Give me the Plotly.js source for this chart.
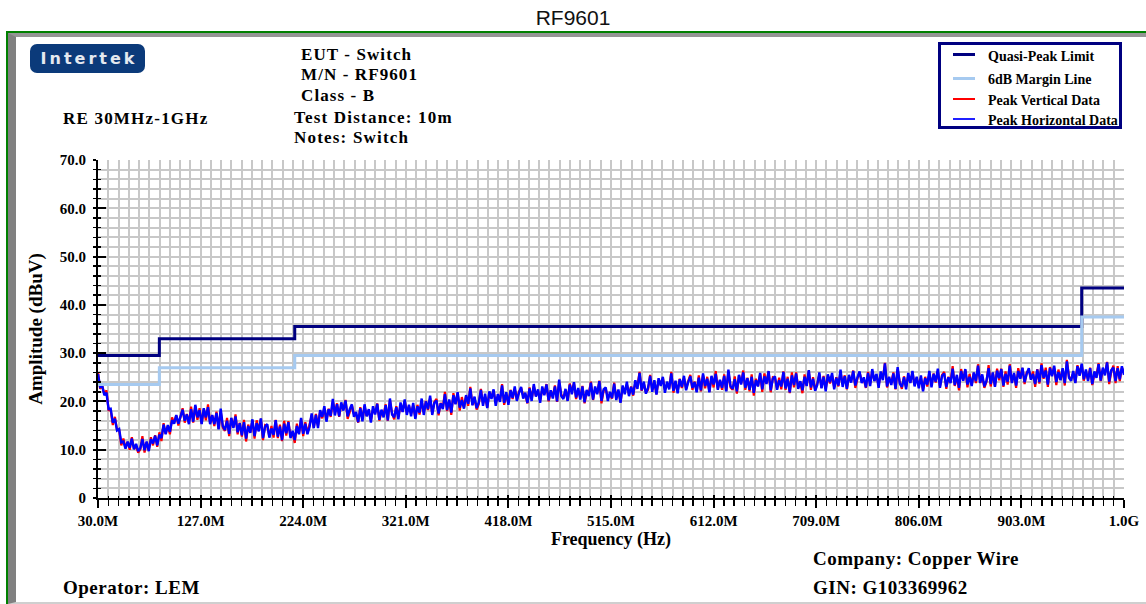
<!DOCTYPE html>
<html><head><meta charset="utf-8">
<script src="https://cdn.plot.ly/plotly-3.0.1.min.js"></script>
<style>
html,body{margin:0;padding:0;background:#fff;width:1146px;height:604px;overflow:hidden;}
#frame{position:absolute;left:6px;top:31px;width:1140px;height:573px;border-top:2px solid #008000;border-left:2px solid #008000;box-sizing:border-box;}
#bevel{position:absolute;left:8px;top:33px;width:1138px;height:571px;border-left:8px solid #808080;border-top:4px solid #959595;border-bottom:2px solid #cfcfcf;box-sizing:border-box;}
#logo{position:absolute;left:30px;top:44px;width:115px;height:29px;background:#0b3a7a;border-radius:7px;color:#e4e9f0;font:bold 16px "DejaVu Sans",sans-serif;letter-spacing:3px;padding-left:3px;box-sizing:border-box;text-align:center;line-height:29px;}
#legbox{position:absolute;left:938px;top:42px;width:184px;height:87px;border:3px solid #000080;box-sizing:border-box;}
.ls{position:absolute;left:953px;width:22px;}
#chart{position:absolute;left:0;top:0;width:1146px;height:604px;}
</style></head>
<body>
<div id="frame"></div>
<div id="bevel"></div>
<div id="logo">Intertek</div>
<div id="legbox"></div>
<div class="ls" style="top:53px;height:3px;background:#000080"></div>
<div class="ls" style="top:77px;height:3px;background:#a6caf0"></div>
<div class="ls" style="top:98px;height:2px;background:#ff0000"></div>
<div class="ls" style="top:118px;height:2px;background:#2020ff"></div>
<div id="chart"></div>
<script>
// ---- data ----
var limitFreq = [30, 88, 216, 960, 1000];
var qpLimit = [29.5, 33.0, 35.5, 43.5, 43.5];
var marginLine = [23.5, 27.0, 29.5, 37.5, 37.5];

var freq = [
30,32,34,36,38,40,42,44,46,48,50,52,54,56,58,60,62,64,66,68,
70,72,74,76,78,80,82,84,86,88,90,92,94,96,98,100,102,104,106,108,
110,112,114,116,118,120,122,124,126,128,130,132,134,136,138,140,142,144,146,148,
150,152,154,156,158,160,162,164,166,168,170,172,174,176,178,180,182,184,186,188,
190,192,194,196,198,200,202,204,206,208,210,212,214,216,218,220,222,224,226,228,
230,232,234,236,238,240,242,244,246,248,250,252,254,256,258,260,262,264,266,268,
270,272,274,276,278,280,282,284,286,288,290,292,294,296,298,300,302,304,306,308,
310,312,314,316,318,320,322,324,326,328,330,332,334,336,338,340,342,344,346,348,
350,352,354,356,358,360,362,364,366,368,370,372,374,376,378,380,382,384,386,388,
390,392,394,396,398,400,402,404,406,408,410,412,414,416,418,420,422,424,426,428,
430,432,434,436,438,440,442,444,446,448,450,452,454,456,458,460,462,464,466,468,
470,472,474,476,478,480,482,484,486,488,490,492,494,496,498,500,502,504,506,508,
510,512,514,516,518,520,522,524,526,528,530,532,534,536,538,540,542,544,546,548,
550,552,554,556,558,560,562,564,566,568,570,572,574,576,578,580,582,584,586,588,
590,592,594,596,598,600,602,604,606,608,610,612,614,616,618,620,622,624,626,628,
630,632,634,636,638,640,642,644,646,648,650,652,654,656,658,660,662,664,666,668,
670,672,674,676,678,680,682,684,686,688,690,692,694,696,698,700,702,704,706,708,
710,712,714,716,718,720,722,724,726,728,730,732,734,736,738,740,742,744,746,748,
750,752,754,756,758,760,762,764,766,768,770,772,774,776,778,780,782,784,786,788,
790,792,794,796,798,800,802,804,806,808,810,812,814,816,818,820,822,824,826,828,
830,832,834,836,838,840,842,844,846,848,850,852,854,856,858,860,862,864,866,868,
870,872,874,876,878,880,882,884,886,888,890,892,894,896,898,900,902,904,906,908,
910,912,914,916,918,920,922,924,926,928,930,932,934,936,938,940,942,944,946,948,
950,952,954,956,958,960,962,964,966,968,970,972,974,976,978,980,982,984,986,988,
990,992,994,996,998,1000];

var peakHorizontal = [
25.7,23.0,23.2,21.3,21.8,18.4,18.5,15.6,16.4,14.0,14.3,11.5,11.7,10.2,11.7,10.4,12.3,10.1,11.2,9.7,
10.3,12.2,9.9,11.7,9.7,12.2,11.3,12.9,10.9,13.1,12.4,15.2,13.2,15.1,13.7,16.1,15.4,17.2,15.4,16.8,
18.3,16.0,17.3,15.3,18.4,15.8,19.3,16.7,18.2,15.3,18.6,16.7,18.8,15.3,17.2,15.3,17.6,14.2,18.5,14.9,
14.1,16.0,13.3,16.6,14.5,16.9,13.6,15.5,13.0,15.7,12.3,14.9,13.5,16.3,12.8,15.5,13.8,16.5,12.4,14.8,
15.3,12.5,14.4,13.1,16.1,12.7,14.8,12.0,15.4,13.4,15.7,12.4,13.9,12.0,14.9,13.2,16.6,13.3,15.4,13.2,
14.7,17.5,14.5,17.2,14.5,18.2,16.8,19.0,15.8,18.4,17.0,20.5,17.1,19.4,16.9,19.8,18.1,20.2,16.9,18.4,
19.4,16.8,17.8,15.7,18.6,15.9,19.4,16.9,18.4,15.6,19.0,17.3,19.5,16.2,18.3,16.7,19.2,16.1,20.6,17.3,
16.7,18.8,16.3,19.8,17.8,20.4,17.2,19.3,16.9,19.7,16.4,19.0,17.7,20.6,17.2,20.0,18.4,21.2,17.2,19.7,
20.2,17.5,19.6,18.4,21.5,18.2,20.4,17.7,21.3,19.4,21.9,18.7,20.3,18.5,21.3,19.5,22.7,19.2,21.0,18.6,
19.8,22.4,19.1,21.6,18.6,22.1,20.5,22.5,19.1,21.5,19.9,23.3,19.7,21.9,19.3,22.3,20.7,23.1,20.1,21.8,
23.0,20.6,21.8,19.7,22.7,20.1,23.6,21.0,22.5,19.7,23.1,21.3,23.5,20.2,22.3,20.6,23.1,20.0,24.5,21.1,
20.5,22.6,20.1,23.5,21.5,24.0,20.8,22.8,20.4,23.1,19.8,22.4,21.1,23.9,20.4,23.1,21.5,24.2,20.1,22.5,
22.9,20.1,22.0,20.7,23.7,20.3,22.5,19.7,23.3,21.5,24.1,21.1,23.0,21.4,24.4,22.6,25.9,22.3,24.1,21.6,
22.8,25.3,22.0,24.4,21.4,24.8,23.2,25.1,21.8,24.1,22.5,25.8,22.2,24.3,21.7,24.6,23.0,25.3,22.3,24.0,
25.2,22.8,24.0,21.9,24.9,22.3,25.8,23.2,24.7,21.9,25.3,23.5,25.7,22.4,24.5,22.8,25.3,22.1,26.6,23.2,
22.6,24.6,22.1,25.5,23.5,26.0,22.8,24.8,22.4,25.1,21.8,24.4,23.1,25.9,22.5,25.2,23.6,26.3,22.3,24.7,
25.2,22.4,24.4,23.1,26.1,22.7,24.7,21.9,25.4,23.4,25.8,22.6,24.2,22.3,25.1,23.2,26.5,22.9,24.7,22.2,
23.4,26.0,22.7,25.1,22.1,25.6,24.0,25.9,22.5,24.9,23.3,26.6,23.0,25.2,22.6,25.5,23.9,26.3,23.3,25.0,
26.2,23.8,25.0,22.9,25.9,23.2,26.7,24.2,25.7,22.8,26.2,24.4,27.9,23.1,25.1,23.4,25.8,22.6,27.1,23.7,
23.0,25.0,22.5,25.9,23.8,26.3,23.1,25.1,22.7,25.4,22.1,24.8,23.5,26.3,22.9,25.7,24.1,26.8,22.8,25.3,
25.8,23.0,25.0,23.8,26.8,23.4,25.5,22.8,26.3,24.3,26.7,23.5,25.1,23.2,26.0,24.2,27.4,23.8,25.6,23.1,
24.3,26.9,23.6,26.0,23.0,26.4,24.8,26.7,23.3,25.7,24.1,27.4,23.8,25.9,23.3,26.3,24.7,27.0,24.0,25.7,
26.9,24.5,25.7,23.6,26.6,24.0,27.5,24.9,26.4,23.5,26.9,25.2,27.4,24.0,26.1,24.4,26.9,23.8,28.3,24.9,
24.3,26.3,23.8,27.3,25.3,27.8,24.6,26.6,24.2,26.9,23.6,26.2,24.9,27.7,24.3,27.0,25.4,28.1,24.1,26.5,
27.0,24.2,26.9,24.6,27.3,25.5];

var peakVertical = [
26.0,22.6,23.3,21.5,22.3,18.2,18.2,15.1,16.8,14.1,14.1,10.9,12.3,10.4,11.6,10.0,12.6,10.2,10.7,9.4,
10.1,12.8,9.4,11.6,9.9,12.6,10.9,13.0,10.6,13.6,11.8,15.5,13.3,14.9,13.2,16.7,15.6,17.1,15.0,17.1,
18.6,15.6,17.4,15.5,18.9,15.6,19.0,16.2,18.6,15.4,18.4,16.1,19.4,15.5,17.1,14.9,17.9,14.3,18.0,14.6,
13.9,16.6,12.8,16.5,14.7,17.3,13.2,15.6,12.7,16.2,11.7,15.2,13.6,16.1,12.3,16.1,14.0,16.4,12.0,15.1,
14.9,12.7,14.9,12.5,16.2,12.4,15.2,11.8,16.0,12.9,15.9,12.7,13.5,11.4,15.4,13.3,16.4,12.8,15.7,13.4,
15.0,17.1,14.6,17.4,15.0,18.0,16.5,18.5,16.2,18.5,16.8,19.9,17.7,19.6,16.8,19.4,18.4,20.3,16.4,18.1,
19.2,17.4,17.3,15.6,18.8,16.3,19.0,17.0,18.1,16.1,18.4,17.6,19.6,16.0,17.8,17.3,19.4,16.0,20.2,17.6,
16.3,19.0,16.8,19.2,17.9,20.1,17.6,19.1,17.5,19.2,16.6,19.3,17.3,20.0,17.7,20.1,18.2,20.7,17.5,19.9,
20.5,17.1,19.7,18.6,22.0,18.0,20.1,17.2,21.7,19.5,21.7,18.1,20.9,18.7,21.2,19.1,23.0,19.3,20.5,18.3,
19.4,22.6,19.6,21.0,18.7,21.8,20.9,22.3,19.7,21.0,20.1,23.6,19.3,21.3,19.8,22.4,20.5,22.6,20.4,22.0,
22.8,21.2,21.3,19.6,22.9,20.5,23.2,21.1,22.2,20.2,22.5,21.6,23.6,20.0,21.8,21.2,23.3,19.9,24.1,21.4,
20.8,22.2,20.2,23.7,22.0,23.8,20.5,22.3,20.8,23.2,19.6,21.8,21.7,24.1,20.3,22.7,21.8,24.3,19.6,22.2,
22.7,20.7,21.5,20.6,23.9,20.7,22.1,19.8,23.0,22.0,23.5,21.4,23.1,21.2,23.9,23.2,26.1,22.2,23.7,21.9,
22.4,25.5,22.5,23.8,21.5,24.5,23.6,24.9,22.4,23.6,22.7,26.1,21.8,23.7,22.2,24.7,22.8,24.8,22.6,24.2,
25.5,22.4,24.1,22.1,25.4,22.1,25.5,22.7,25.1,22.0,25.1,22.9,26.3,22.6,24.4,22.4,25.6,22.2,26.1,22.9,
22.4,25.2,21.6,25.4,23.7,26.4,22.4,24.9,22.1,25.6,21.2,24.7,23.2,25.7,22.0,25.8,23.8,26.2,21.9,25.0,
24.8,22.6,24.9,22.5,26.2,22.4,25.1,21.7,26.0,22.9,26.0,22.9,23.8,21.7,25.6,23.3,26.3,22.4,25.0,22.4,
23.7,25.6,22.8,25.3,22.6,25.4,23.7,25.4,22.9,25.0,23.1,26.0,23.6,25.4,22.5,25.1,24.2,26.4,22.8,24.7,
26.0,24.4,24.5,22.8,26.1,23.6,26.3,24.3,25.4,23.3,25.6,24.7,28.0,22.9,24.6,24.0,26.0,22.5,26.7,24.0,
22.6,25.2,23.0,25.3,23.9,26.0,23.5,24.9,23.3,24.9,22.3,25.1,23.1,25.7,23.4,25.8,23.9,26.3,23.1,25.5,
26.1,22.6,25.1,24.0,27.3,23.2,25.2,22.3,26.7,24.4,26.5,22.9,25.7,23.4,25.9,23.8,27.7,23.9,25.1,22.8,
24.1,27.5,23.1,25.9,23.2,26.8,24.4,26.8,23.0,26.2,23.5,27.7,23.9,25.7,22.8,26.9,24.9,26.9,23.6,26.0,
26.5,24.7,26.2,23.0,26.7,23.7,27.9,24.7,27.0,23.0,27.1,25.5,27.0,23.4,26.6,24.5,26.7,23.3,28.6,25.1,
24.6,25.9,23.9,27.5,25.8,27.6,24.3,26.1,24.6,27.0,23.4,25.6,25.5,27.9,24.2,26.6,25.7,28.2,23.6,26.2,
27.4,23.8,27.3,24.2,27.0,25.9];

var xTickVals = [30,127,224,321,418,515,612,709,806,903,1000];
var xTickText = ['30.0M','127.0M','224.0M','321.0M','418.0M','515.0M','612.0M','709.0M','806.0M','903.0M','1.0G'];
var yTickVals = [0,10,20,30,40,50,60,70];
var yTickText = ['0','10.0','20.0','30.0','40.0','50.0','60.0','70.0'];
var legendNames = ['Quasi-Peak Limit','6dB Margin Line','Peak Vertical Data','Peak Horizontal Data'];

// ---- layout helpers (pixel -> paper) ----
var L=98, R=22, T=160, B=106, W=1146, H=604;
var PW=W-L-R, PH=H-T-B;
function ax(px){return (px-L)/PW;}
function ay(py){return (H-B-py)/PH;}
var SERIF = '"Liberation Serif","Times New Roman",serif';

function ann(text, px, py, size, spacing){
  var t = spacing ? '<span style="letter-spacing:' + spacing + 'px">' + text + '</span>' : text;
  return {text:t, x:ax(px), y:ay(py), xref:'paper', yref:'paper', xanchor:'left', yanchor:'middle',
    showarrow:false, borderpad:0, font:{family:SERIF, size:size, color:'#000', weight:700}};
}

var traces = [
  {x:limitFreq, y:qpLimit, xaxis:'x2', yaxis:'y2', mode:'lines', name:legendNames[0],
   line:{color:'#000080', width:3, shape:'hv'}, hoverinfo:'skip'},
  {x:limitFreq, y:marginLine, xaxis:'x2', yaxis:'y2', mode:'lines', name:legendNames[1],
   line:{color:'#a6caf0', width:3, shape:'hv'}, hoverinfo:'skip'},
  {x:freq, y:peakVertical, mode:'lines', name:legendNames[2], line:{color:'#ff0000', width:2.2}},
  {x:freq, y:peakHorizontal, mode:'lines', name:legendNames[3], line:{color:'#0000ff', width:2.4}}
];

var tickFont = {family:SERIF, size:15, color:'#000', weight:700};
var GRID = '#c8c8c8';

var layout = {
  width:W, height:H,
  margin:{l:L, r:R, t:T, b:B, pad:0},
  paper_bgcolor:'rgba(0,0,0,0)', plot_bgcolor:'rgba(0,0,0,0)',
  showlegend:false,
  title:{text:'RF9601', x:0.5, xref:'container', y:1-18/H, yref:'container', yanchor:'middle',
    font:{family:'"Liberation Sans",Arial,sans-serif', size:21, color:'#111'}},
  xaxis:{range:[30,1000], tickmode:'array', tickvals:xTickVals, ticktext:xTickText,
    ticks:'outside', ticklen:8, tickwidth:2, tickcolor:'#000',
    showline:true, linecolor:'#000', linewidth:2, zeroline:false,
    showgrid:true, gridcolor:GRID, gridwidth:2,
    minor:{tick0:30, dtick:9.7, ticks:'outside', ticklen:6, tickwidth:1.5, tickcolor:'#000',
      showgrid:true, gridcolor:GRID, gridwidth:2},
    tickfont:tickFont,
    title:{text:'Frequency (Hz)', font:{family:SERIF, size:18, color:'#000', weight:700}, standoff:4},
    fixedrange:true},
  yaxis:{range:[0,70], tickmode:'array', tickvals:yTickVals, ticktext:yTickText,
    ticks:'outside', ticklen:3, tickwidth:2, tickcolor:'#000',
    showline:true, linecolor:'#000', linewidth:2, zeroline:false,
    showgrid:true, gridcolor:GRID, gridwidth:2,
    minor:{tick0:0, dtick:2, ticks:'outside', ticklen:3, tickwidth:1.5, tickcolor:'#000',
      showgrid:true, gridcolor:GRID, gridwidth:2},
    tickfont:tickFont, ticklabelstandoff:4,
    title:{text:'Amplitude (dBuV)', font:{family:SERIF, size:19, color:'#000', weight:700}, standoff:12},
    fixedrange:true},
  xaxis2:{overlaying:'x', anchor:'y', side:'bottom', range:[30,1000], tickmode:'array', tickvals:xTickVals,
    ticks:'inside', ticklen:3, tickwidth:2, tickcolor:'#000', showticklabels:false,
    showgrid:false, showline:false, zeroline:false,
    minor:{tick0:30, dtick:9.7, ticks:'inside', ticklen:2, tickwidth:1.5, tickcolor:'#000', showgrid:false},
    fixedrange:true},
  yaxis2:{overlaying:'y', anchor:'x', side:'left', range:[0,70], tickmode:'array', tickvals:yTickVals,
    ticks:'inside', ticklen:8, tickwidth:2, tickcolor:'#000', showticklabels:false,
    showgrid:false, showline:false, zeroline:false,
    minor:{tick0:0, dtick:2, ticks:'inside', ticklen:3, tickwidth:1.5, tickcolor:'#000', showgrid:false},
    fixedrange:true},
  annotations:[
    ann('EUT - Switch', 300, 54.5, 17, 1.1),
    ann('M/N - RF9601', 300, 75, 17, 1.1),
    ann('Class - B', 300, 95.5, 17, 1.1),
    ann('RE 30MHz-1GHz', 62, 119, 17, 1.2),
    ann('Test Distance: 10m', 293, 117.5, 17, 1.2),
    ann('Notes: Switch', 293, 138, 17, 1.2),
    ann('Operator: LEM', 62, 587, 19, 0.5),
    ann('Company: Copper Wire', 812, 558, 19, 0.5),
    ann('GIN: G103369962', 812, 587, 19, 0.5),
    ann(legendNames[0], 987, 56.5, 14),
    ann(legendNames[1], 987, 79, 14),
    ann(legendNames[2], 987, 100, 14),
    ann(legendNames[3], 987, 120.5, 14)
  ]
};

Plotly.newPlot('chart', traces, layout, {staticPlot:true, displayModeBar:false});
</script>
</body></html>
